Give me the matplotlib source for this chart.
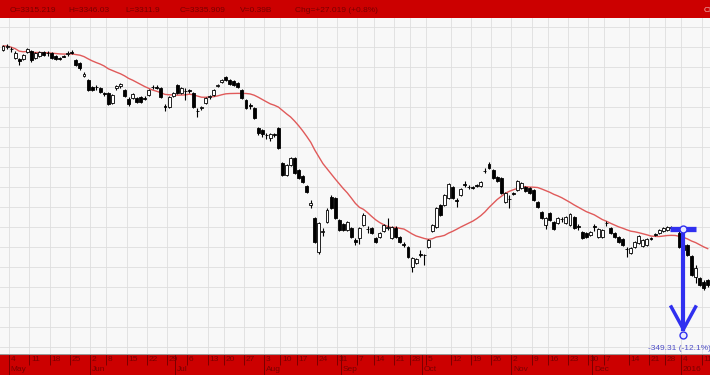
import numpy as np
import pandas as pd
import matplotlib
matplotlib.use('Agg')
import matplotlib.pyplot as plt

plt.rcParams['font.family'] = ['Liberation Sans', 'DejaVu Sans']

# daily OHLC (late Apr 2015 .. mid Jan 2016)
opens = [
    3515, 3526, 3518, 3487, 3484, 3484, 3508, 3512, 3487, 3494,
    3508, 3504, 3504, 3494, 3487, 3494, 3501, 3508, 3480, 3470,
    3424, 3410, 3386, 3386, 3382, 3364, 3364, 3330, 3382, 3389,
    3375, 3344, 3347, 3347, 3350, 3347, 3358, 3386, 3386, 3382,
    3319, 3316, 3354, 3392, 3364, 3372, 3375, 3364, 3302, 3312,
    3330, 3350, 3358, 3389, 3403, 3420, 3410, 3406, 3400, 3375,
    3340, 3322, 3312, 3242, 3235, 3218, 3207, 3221, 3242, 3120,
    3078, 3112, 3137, 3095, 3074, 3039, 2972, 2927, 2808, 2878,
    2913, 3000, 2997, 2920, 2906, 2885, 2892, 2850, 2857, 2902,
    2888, 2892, 2857, 2860, 2882, 2892, 2857, 2892, 2860, 2836,
    2826, 2756, 2770, 2801, 2798, 2826, 2882, 2896, 2972, 2972,
    2997, 3036, 2990, 3008, 3046, 3036, 3036, 3042, 3039, 3092,
    3116, 3095, 3070, 3067, 2983, 2994, 3014, 3025, 3032, 3036,
    3032, 3025, 2983, 2948, 2902, 2944, 2913, 2910, 2924, 2910,
    2902, 2930, 2899, 2878, 2874, 2868, 2899, 2860, 2860, 2910,
    2892, 2874, 2860, 2854, 2818, 2804, 2826, 2840, 2829, 2832,
    2857, 2871, 2874, 2882, 2885, 2896, 2892, 2874, 2832, 2832,
    2794, 2720, 2717, 2703, 2710]
closes = [
    3529, 3529, 3517, 3504, 3476, 3498, 3518, 3480, 3504, 3508,
    3498, 3503, 3487, 3484, 3485, 3492, 3504, 3506, 3462, 3452,
    3431, 3375, 3375, 3384, 3368, 3361, 3326, 3358, 3389, 3396,
    3354, 3326, 3361, 3333, 3333, 3345, 3375, 3384, 3382, 3350,
    3317, 3350, 3364, 3364, 3382, 3371, 3373, 3316, 3300, 3316,
    3347, 3354, 3375, 3391, 3410, 3410, 3396, 3392, 3386, 3347,
    3312, 3319, 3277, 3224, 3221, 3216, 3221, 3219, 3172, 3078,
    3112, 3137, 3084, 3067, 3053, 3018, 2980, 2843, 2910, 2882,
    2955, 2962, 2927, 2885, 2885, 2913, 2860, 2843, 2892, 2938,
    2887, 2874, 2843, 2874, 2902, 2894, 2896, 2860, 2843, 2834,
    2790, 2787, 2784, 2799, 2796, 2850, 2902, 2962, 2938, 3008,
    3046, 2997, 2988, 3028, 3044, 3034, 3032, 3039, 3053, 3090,
    3102, 3067, 3056, 3014, 3014, 2992, 3011, 3056, 3050, 3022,
    3014, 2990, 2966, 2927, 2927, 2920, 2888, 2927, 2922, 2930,
    2941, 2892, 2897, 2857, 2860, 2878, 2897, 2888, 2885, 2908,
    2874, 2860, 2843, 2832, 2817, 2822, 2843, 2864, 2850, 2854,
    2855, 2869, 2885, 2892, 2896, 2892, 2888, 2826, 2815, 2798,
    2728, 2752, 2692, 2682, 2692]
highs = [
    3532, 3536, 3526, 3512, 3487, 3501, 3522, 3515, 3508, 3512,
    3512, 3512, 3508, 3498, 3490, 3498, 3512, 3515, 3484, 3473,
    3438, 3414, 3389, 3392, 3386, 3368, 3368, 3361, 3392, 3400,
    3378, 3350, 3364, 3350, 3354, 3354, 3378, 3392, 3392, 3386,
    3326, 3354, 3368, 3396, 3386, 3382, 3378, 3368, 3312, 3319,
    3350, 3358, 3378, 3396, 3414, 3424, 3414, 3410, 3403, 3378,
    3344, 3330, 3316, 3246, 3238, 3224, 3224, 3224, 3246, 3123,
    3116, 3140, 3140, 3098, 3078, 3042, 2990, 2930, 2913, 2892,
    2962, 3007, 3000, 2924, 2910, 2916, 2896, 2857, 2896, 2944,
    2899, 2896, 2860, 2878, 2906, 2927, 2899, 2899, 2864, 2843,
    2829, 2790, 2787, 2815, 2801, 2854, 2906, 2966, 2976, 3011,
    3050, 3039, 2997, 3032, 3056, 3042, 3039, 3046, 3056, 3102,
    3123, 3098, 3074, 3070, 3018, 3008, 3018, 3060, 3053, 3039,
    3036, 3028, 2986, 2952, 2930, 2948, 2916, 2930, 2930, 2934,
    2944, 2934, 2906, 2882, 2878, 2882, 2906, 2892, 2888, 2916,
    2896, 2878, 2864, 2857, 2826, 2826, 2846, 2868, 2854, 2857,
    2860, 2874, 2888, 2896, 2899, 2899, 2896, 2882, 2836, 2836,
    2798, 2762, 2720, 2710, 2714]
lows = [
    3512, 3518, 3508, 3484, 3462, 3480, 3504, 3473, 3484, 3490,
    3494, 3494, 3484, 3480, 3480, 3490, 3494, 3501, 3459, 3445,
    3420, 3372, 3372, 3375, 3364, 3354, 3322, 3326, 3375, 3382,
    3350, 3319, 3344, 3330, 3330, 3340, 3354, 3378, 3378, 3347,
    3302, 3312, 3350, 3361, 3361, 3340, 3364, 3312, 3280, 3305,
    3326, 3344, 3354, 3386, 3400, 3406, 3392, 3389, 3382, 3344,
    3308, 3308, 3274, 3218, 3210, 3204, 3196, 3210, 3170, 3074,
    3074, 3109, 3081, 3064, 3050, 3014, 2962, 2840, 2801, 2864,
    2910, 2958, 2924, 2882, 2882, 2882, 2857, 2832, 2836, 2899,
    2874, 2871, 2840, 2857, 2878, 2885, 2854, 2857, 2840, 2826,
    2787, 2738, 2766, 2790, 2762, 2822, 2878, 2892, 2934, 2969,
    2994, 2994, 2966, 3004, 3036, 3028, 3028, 3036, 3036, 3084,
    3098, 3064, 3053, 3011, 2980, 2962, 3008, 3022, 3028, 3018,
    3011, 2986, 2962, 2924, 2888, 2916, 2885, 2906, 2913, 2906,
    2899, 2888, 2885, 2854, 2857, 2864, 2882, 2857, 2857, 2899,
    2871, 2857, 2840, 2829, 2790, 2801, 2822, 2836, 2826, 2829,
    2850, 2864, 2871, 2878, 2882, 2888, 2885, 2822, 2808, 2794,
    2724, 2700, 2689, 2675, 2686]

# bar index of the first session of each week / month
week_pos = [2, 7, 12, 17, 22, 26, 31, 36, 41, 46, 51, 55, 60, 65, 69, 73,
            78, 83, 88, 92, 97, 101, 105, 111, 116, 121, 126, 131, 135, 140,
            145, 149, 155, 160, 164, 168, 173]
week_labels = ['4', '11', '18', '25', '2', '8', '15', '22', '29', '6', '13',
               '20', '27', '3', '10', '17', '24', '31', '7', '14', '21', '28',
               '5', '12', '19', '26', '2', '9', '16', '23', '30', '7', '14',
               '21', '28', '4', '11']
month_pos = [2, 22, 43, 65, 84, 104, 126, 146, 168]
month_labels = ['May', 'Jun', 'Jul', 'Aug', 'Sep', 'Oct', 'Nov', 'Dec', '2016']

header_labels = ['O=3315.219', 'H=3346.03', 'L=3311.9', 'C=3335.909',
                 'V=0.39B', 'Chg=+27.019 (+0.8%)']

# measured drop shown by the blue arrow
drop_bar = 167
drop_start = 2887.0
drop_points = 349.31
drop_pct = -12.1

W, H = 710, 375
RED = '#cc0000'
DARK = '#7a0000'
BLUE = '#3030f0'

fig = plt.figure(figsize=(W / 100, H / 100), dpi=100)
ax = fig.add_axes([0, 21 / H, 1, (354 - 18) / H])
bot = fig.add_axes([0, 0, 1, 21 / H], sharex=ax)
top = fig.add_axes([0, (H - 18) / H, 1, 18 / H])

o = np.array(opens, dtype=float)
c = np.array(closes, dtype=float)
idx = np.arange(len(o))
up = c >= o

ax.set_facecolor('#f8f8f8')
ax.vlines(idx, lows, highs, color='black', lw=0.8, zorder=3)
ax.bar(idx, np.abs(c - o), bottom=np.minimum(o, c), width=0.72,
       color=np.where(up, 'white', 'black'), edgecolor='black',
       linewidth=0.6, zorder=4)

ma = pd.Series(c).rolling(20, min_periods=1).mean()
ax.plot(idx, ma, color='#e05a5a', lw=1.0, zorder=2)

ax.set_xlim(-3 / 4.05, (W - 3) / 4.05)
ax.set_ylim(3690 - 3.5 * 354, 3690 - 3.5 * 18)
ax.set_xticks(np.array(week_pos) - 0.5)
ax.set_yticks(np.arange(3690 - 3.5 * 347, 3630, 70))
ax.grid(True, color='#dedede', lw=0.6, zorder=0)
ax.tick_params(left=False, bottom=False, labelleft=False, labelbottom=False)
for s in ax.spines.values():
    s.set_visible(False)

# blue measuring arrow
x0 = drop_bar + 1
y1 = drop_start - drop_points
ax.plot([x0 - 3.2, x0 + 3.2], [drop_start, drop_start], color=BLUE, lw=3.8,
        solid_capstyle='butt', zorder=6)
ax.plot([x0, x0], [drop_start, y1], color=BLUE, lw=3, zorder=6)
ax.plot([x0 - 3.0, x0, x0 + 3.0], [y1 + 78, y1, y1 + 78], color=BLUE, lw=2.5,
        zorder=6)
ax.plot([x0], [drop_start], 'o', ms=5, mfc='#e8e8ff', mec=BLUE, mew=1, zorder=7)
ax.plot([x0], [y1 - 20], 'o', ms=5, mfc='#e8e8ff', mec=BLUE, mew=1, zorder=7)
fig.text(648 / W, 1 - 350 / H, '%.2f (%.1f%%)' % (-drop_points, drop_pct),
         color='#5050c8', fontsize=6)

# header strip
top.set_facecolor(RED)
top.set_xticks([])
top.set_yticks([])
for s in top.spines.values():
    s.set_visible(False)
for lab, px in zip(header_labels, [10, 68, 125, 180, 240, 295]):
    fig.text(px / W, 1 - 10 / H, lab, color=DARK, fontsize=6, va='center')
fig.text(704 / W, 1 - 10 / H, 'Cl', color='#f2b0b0', fontsize=6, va='center')

# date strip
bot.set_facecolor(RED)
bot.set_ylim(0, 1)
bot.vlines(np.array(week_pos) - 0.5, 0.5, 1, color=DARK, lw=0.7)
bot.vlines(np.array(month_pos) - 0.5, 0, 1, color=DARK, lw=0.7)
for p, lab in zip(week_pos, week_labels):
    bot.text(p - 0.1, 0.74, lab, color=DARK, fontsize=6, va='center')
for p, lab in zip(month_pos, month_labels):
    bot.text(p - 0.1, 0.24, lab, color=DARK, fontsize=6, va='center')
bot.tick_params(left=False, bottom=False, labelleft=False, labelbottom=False)
for s in bot.spines.values():
    s.set_visible(False)
bot.axhline(1, color='#999999', lw=0.8)

fig.savefig('out.png', dpi=100)
